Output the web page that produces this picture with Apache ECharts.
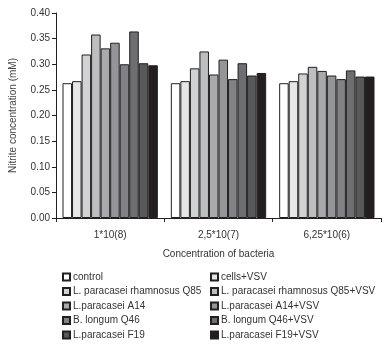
<!DOCTYPE html>
<html><head><meta charset="utf-8">
<script src="https://cdn.jsdelivr.net/npm/echarts@6/dist/echarts.min.js"></script>
<style>html,body{margin:0;padding:0;background:#fff}#c{width:384px;height:345px}</style>
</head><body><div id="c"></div>
<script>
const categories = ['1*10(8)', '2,5*10(7)', '6,25*10(6)'];
const seriesNames = ['control', 'cells+VSV', 'L. paracasei rhamnosus Q85', 'L. paracasei rhamnosus Q85+VSV',
  'L.paracasei A14', 'L.paracasei A14+VSV', 'B. longum Q46', 'B. longum Q46+VSV', 'L.paracasei F19', 'L.paracasei F19+VSV'];
const control = [0.263, 0.263, 0.263];
const cellsVSV = [0.267, 0.267, 0.267];
const q85 = [0.319, 0.292, 0.282];
const q85VSV = [0.358, 0.325, 0.295];
const a14 = [0.331, 0.280, 0.287];
const a14VSV = [0.342, 0.309, 0.278];
const q46 = [0.300, 0.271, 0.271];
const q46VSV = [0.364, 0.302, 0.288];
const f19 = [0.302, 0.278, 0.276];
const f19VSV = [0.298, 0.283, 0.276];
const yTicks = [0, 0.05, 0.10, 0.15, 0.20, 0.25, 0.30, 0.35, 0.40];
const values = [control, cellsVSV, q85, q85VSV, a14, a14VSV, q46, q46VSV, f19, f19VSV];
const colors = ['#ffffff', '#e6e6e7', '#d1d2d4', '#bcbec0', '#a7a9ac', '#939598', '#808285', '#6d6e71', '#58595b', '#231f20'];

const chart = echarts.init(document.getElementById('c'));
const font = 'Liberation Sans, Arial, sans-serif';
const legendBase = {
  orient: 'vertical', top: 267, height: 80, icon: 'rect', itemWidth: 7, itemHeight: 7, itemGap: 4.5,
  textStyle: { fontSize: 10, color: '#333', padding: [0, 0, 0, -2] }
};
chart.setOption({
  animation: false,
  textStyle: { fontFamily: font },
  grid: { left: 48, right: 3, top: 13, bottom: 127 },
  xAxis: {
    type: 'category', data: categories,
    name: 'Concentration of bacteria', nameLocation: 'middle', nameGap: 31,
    nameTextStyle: { fontSize: 10, color: '#333' },
    axisLine: { lineStyle: { color: '#231f20', width: 1 } },
    axisTick: { show: true, length: 4, lineStyle: { color: '#231f20' } },
    axisLabel: { fontSize: 10, color: '#333', margin: 12 }
  },
  yAxis: {
    type: 'value', min: 0, max: 0.4, interval: 0.05,
    name: 'Nitrite concentration (mM)', nameLocation: 'middle', nameGap: 38,
    nameTextStyle: { fontSize: 10, color: '#444' },
    splitLine: { show: false },
    axisLine: { show: true, lineStyle: { color: '#231f20', width: 1 } },
    axisTick: { show: true, length: 4, lineStyle: { color: '#231f20' } },
    axisLabel: { fontSize: 10, color: '#333', margin: 6,
      formatter: v => { const t = yTicks.find(x => Math.abs(x - v) < 1e-9); return (t !== undefined ? t : v).toFixed(2); } }
  },
  legend: [
    Object.assign({ left: 57, data: [0, 2, 4, 6, 8].map(i => seriesNames[i]) }, legendBase),
    Object.assign({ left: 205, data: [1, 3, 5, 7, 9].map(i => seriesNames[i]) }, legendBase)
  ],
  series: values.map((v, i) => ({
    name: seriesNames[i], type: 'bar', data: v,
    barGap: '0%', barCategoryGap: '12%',
    itemStyle: { color: colors[i], borderColor: '#231f20', borderWidth: 1 }
  }))
});
</script></body></html>
